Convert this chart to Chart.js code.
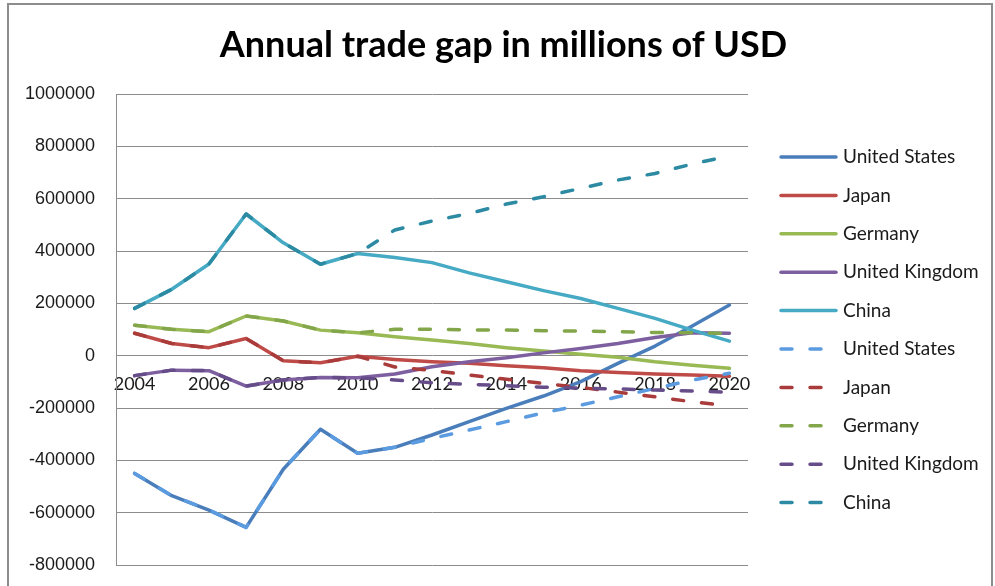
<!DOCTYPE html>
<html lang="en">

<head>
  <meta charset="UTF-8" />
  <title>Annual trade gap</title>
  <style>
    body {
      margin: 0;
      background-color: #ffffff;
    }

    .wrap {
      position: relative;
      width: 995px;
      height: 586px;
    }
  </style>
</head>

<body>
  <div class="wrap">
    <canvas id="gapChart"></canvas>
  </div>

  <script src="https://cdn.jsdelivr.net/npm/chart.js"></script>
  <script>
    const years = ['2004', '2005', '2006', '2007', '2008', '2009', '2010', '2011', '2012',
      '2013', '2014', '2015', '2016', '2017', '2018', '2019', '2020'];

    const countries = ['United States', 'Japan', 'Germany', 'United Kingdom', 'China'];

    // solid lines
    const usLine = [-450000, -535000, -590000, -656000, -434000, -281000, -373000, -350000, -303000,
      -252000, -201000, -154000, -99000, -29000, 37000, 114000, 194000];
    const japanLine = [86000, 47000, 31000, 66000, -19000, -27000, -2000, -14000, -23000,
      -29000, -38000, -46000, -57000, -64000, -70000, -74000, -78000];
    const germanyLine = [117000, 101000, 92000, 152000, 133000, 98000, 88000, 73000, 60000,
      47000, 31000, 18000, 6000, -6000, -23000, -36000, -48000];
    const ukLine = [-76000, -55000, -57000, -116000, -93000, -83000, -84000, -70000, -42000,
      -23000, -8000, 11000, 28000, 47000, 70000, 88000, 86000];
    const chinaLine = [181000, 254000, 351000, 542000, 432000, 350000, 391000, 376000, 356000,
      317000, 283000, 249000, 219000, 181000, 143000, 98000, 56000];

    // dashed lines
    const usDash = [-450000, -535000, -590000, -656000, -434000, -281000, -373000, -350000, -316000,
      -284000, -252000, -218000, -189000, -157000, -125000, -93000, -67000];
    const japanDash = [86000, 47000, 31000, 66000, -19000, -27000, -2000, -43000, -56000,
      -74000, -90000, -106000, -121000, -139000, -157000, -176000, -192000];
    const germanyDash = [117000, 101000, 92000, 152000, 133000, 98000, 88000, 101000, 101000,
      99000, 98000, 96000, 94000, 92000, 89000, 88000, 86000];
    const ukDash = [-76000, -55000, -57000, -116000, -93000, -83000, -84000, -93000, -103000,
      -109000, -115000, -120000, -124000, -127000, -131000, -135000, -139000];
    const chinaDash = [181000, 254000, 351000, 542000, 432000, 350000, 391000, 481000, 515000,
      544000, 580000, 608000, 640000, 672000, 697000, 733000, 764000];

    const yTicks = [-800000, -600000, -400000, -200000, 0, 200000, 400000, 600000, 800000, 1000000];

    const solidColors = ['#4a7ebb', '#be4b48', '#98b954', '#7d5fa0', '#46aac4'];
    const dashColors = ['#5b9be0', '#a93c3a', '#84a64a', '#664d8a', '#2c8aa3'];
    const dashPattern = [11, 18];

    const solidData = [usLine, japanLine, germanyLine, ukLine, chinaLine];
    const dashData = [usDash, japanDash, germanyDash, ukDash, chinaDash];

    const datasets = [];
    countries.forEach((name, i) => {
      datasets.push({
        label: name,
        data: solidData[i],
        borderColor: solidColors[i],
        order: 9 - i
      });
    });
    countries.forEach((name, i) => {
      datasets.push({
        label: name,
        data: dashData[i],
        borderColor: dashColors[i],
        borderDash: dashPattern,
        order: 4 - i
      });
    });

    // grey frame round the whole chart
    const framePlugin = {
      id: 'frame',
      beforeDraw(chart) {
        const c = chart.ctx;
        c.save();
        c.strokeStyle = '#8c8c8c';
        c.lineWidth = 2;
        c.strokeRect(8, 4, 984, 640);
        c.restore();
      }
    };

    // legend on the right, one row per dataset
    const sideLegend = {
      id: 'sideLegend',
      afterDraw(chart) {
        const c = chart.ctx;
        c.save();
        c.font = '19px Lato';
        c.textBaseline = 'middle';
        c.fillStyle = '#1a1a1a';
        chart.data.datasets.forEach((ds, i) => {
          const y = 157 + i * 38.4;
          c.strokeStyle = ds.borderColor;
          c.lineWidth = 3.5;
          c.lineCap = 'round';
          c.setLineDash(ds.borderDash || []);
          c.beginPath();
          c.moveTo(781, y);
          c.lineTo(ds.borderDash ? 826 : 836, y);
          c.stroke();
          c.setLineDash([]);
          c.fillText(ds.label, 843, y);
        });
        c.restore();
      }
    };

    const chart = new Chart(document.getElementById('gapChart'), {
      type: 'line',
      data: {
        labels: years,
        datasets: datasets
      },
      options: {
        responsive: true,
        maintainAspectRatio: false,
        animation: false,
        layout: {
          padding: { top: 24, left: 12, right: 0, bottom: 21 }
        },
        elements: {
          line: { borderWidth: 3.5, tension: 0, borderCapStyle: 'round', borderJoinStyle: 'round' },
          point: { radius: 0, hoverRadius: 0 }
        },
        plugins: {
          legend: { display: false },
          tooltip: { enabled: false },
          title: {
            display: true,
            text: 'Annual trade gap in millions of USD',
            color: '#000000',
            font: { family: 'Lato', size: 36, weight: 'bold' },
            padding: { top: 0, bottom: 27 }
          }
        },
        scales: {
          x: {
            type: 'category',
            offset: true,
            position: { y: 0 },
            grid: { display: false },
            border: { display: false },
            // the labels sit under the zero line, so the axis takes no room of its own
            afterFit: (axis) => {
              axis.height = 0;
              axis.paddingLeft = 0;
              axis.paddingRight = 0;
            },
            ticks: {
              autoSkip: false,
              maxRotation: 0,
              padding: 10,
              color: '#1a1a1a',
              font: { family: 'Lato', size: 18 },
              callback: (v, i) => (i % 2 === 0 ? years[i] : '')
            }
          },
          y: {
            min: -800000,
            max: 1000000,
            afterBuildTicks: (axis) => {
              axis.ticks = yTicks.map(v => ({ value: v }));
            },
            afterFit: (axis) => {
              axis.width = 104;
              axis.paddingTop = 0;
              axis.paddingBottom = 0;
            },
            grid: { color: '#8c8c8c', lineWidth: 1, drawTicks: false },
            border: { color: '#8c8c8c', width: 1 },
            ticks: {
              padding: 21,
              color: '#1a1a1a',
              font: { family: 'Liberation Sans', size: 18 },
              callback: (v) => String(v)
            }
          },
          // empty axis that keeps room free for the legend
          side: {
            position: 'right',
            display: true,
            grid: { display: false },
            border: { display: false },
            ticks: { display: false },
            afterFit: (axis) => {
              axis.width = 247;
              axis.paddingTop = 0;
              axis.paddingBottom = 0;
            }
          }
        }
      },
      plugins: [framePlugin, sideLegend]
    });
  </script>
</body>

</html>
